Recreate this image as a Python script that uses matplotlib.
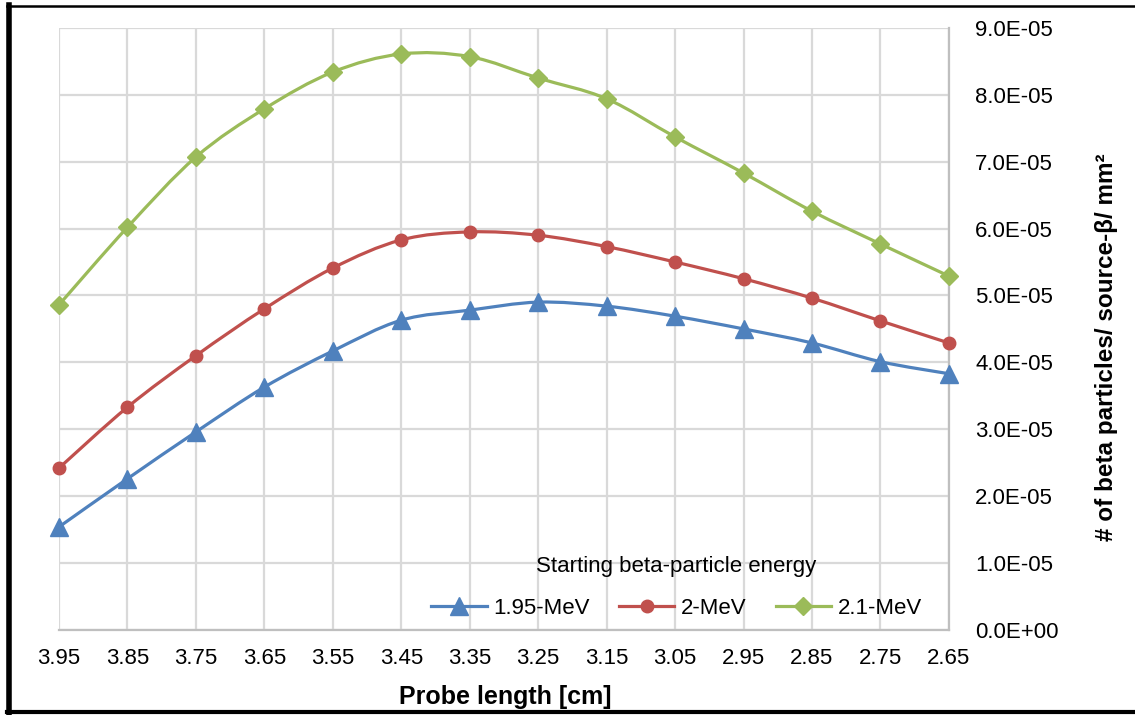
import matplotlib
matplotlib.use("Agg")
import matplotlib.pyplot as plt
from matplotlib.path import Path
from matplotlib.patches import PathPatch
from matplotlib.lines import Line2D
from matplotlib.ticker import FuncFormatter

plt.rcParams["font.family"] = ["Liberation Sans", "DejaVu Sans"]

# Data
probe_length = ["3.95", "3.85", "3.75", "3.65", "3.55", "3.45", "3.35",
                "3.25", "3.15", "3.05", "2.95", "2.85", "2.75", "2.65"]
mev_195 = [1.54, 2.26, 2.96, 3.63, 4.17, 4.63, 4.78, 4.90, 4.84, 4.69, 4.50, 4.29, 4.01, 3.83]
mev_2 = [2.42, 3.33, 4.10, 4.80, 5.41, 5.83, 5.95, 5.90, 5.73, 5.50, 5.25, 4.96, 4.62, 4.29]
mev_21 = [4.86, 6.02, 7.07, 7.79, 8.34, 8.61, 8.57, 8.25, 7.94, 7.37, 6.83, 6.26, 5.77, 5.29]
scale = 1e-5

series = [
    ("1.95-MeV", mev_195, "#4F81BD", "^", 12.5),
    ("2-MeV", mev_2, "#C0504D", "o", 9),
    ("2.1-MeV", mev_21, "#9BBB59", "D", 9),
]


def smooth_path(xs, ys):
    # Excel-style smoothed line drawn as cubic Bezier segments
    pts = list(zip(xs, ys))
    verts = [pts[0]]
    codes = [Path.MOVETO]
    n = len(pts)
    for i in range(n - 1):
        p0 = pts[max(i - 1, 0)]
        p1 = pts[i]
        p2 = pts[i + 1]
        p3 = pts[min(i + 2, n - 1)]
        c1 = (p1[0] + (p2[0] - p0[0]) / 6, p1[1] + (p2[1] - p0[1]) / 6)
        c2 = (p2[0] - (p3[0] - p1[0]) / 6, p2[1] - (p3[1] - p1[1]) / 6)
        verts += [c1, c2, p2]
        codes += [Path.CURVE4] * 3
    return Path(verts, codes)


fig = plt.figure(figsize=(11.35, 7.15), dpi=100)
ax = fig.add_axes([0.052, 0.119, 0.784, 0.842])

x = list(range(len(probe_length)))
handles = []
for name, vals, color, marker, ms in series:
    y = [v * scale for v in vals]
    ax.add_patch(PathPatch(smooth_path(x, y), fill=False, edgecolor=color,
                           lw=2.3, zorder=3, clip_on=False))
    ax.plot(x, y, ls="none", marker=marker, ms=ms, color=color, zorder=4,
            clip_on=False)
    handles.append(Line2D([], [], color=color, lw=2.3, marker=marker, ms=ms))

ax.set_xlim(0, len(x) - 1)
ax.set_ylim(0, 9e-5)
ax.set_xticks(x)
ax.set_xticklabels(probe_length)
ax.set_yticks([i * 1e-5 for i in range(10)])
ax.yaxis.set_major_formatter(FuncFormatter(lambda v, p: f"{v:.1E}"))
ax.yaxis.tick_right()

ax.grid(True, color="#D9D9D9", lw=1.6)
ax.set_axisbelow(True)
for s in ["top", "left"]:
    ax.spines[s].set_visible(False)
for s in ["bottom", "right"]:
    ax.spines[s].set_color("#BFBFBF")
    ax.spines[s].set_linewidth(1.6)
ax.tick_params(length=0)
ax.tick_params(axis="x", pad=13, labelsize=16)
ax.tick_params(axis="y", pad=19, labelsize=16)

fig.text(0.445, 0.025, "Probe length [cm]", fontsize=18, fontweight="bold",
         ha="center", va="center")
fig.text(0.975, 0.515, "# of beta particles/ source-β/ mm²", fontsize=17.5,
         fontweight="bold", rotation=90, ha="center", va="center")

leg = ax.legend(handles, [s[0] for s in series], title="Starting beta-particle energy",
                ncol=3, loc="lower center", bbox_to_anchor=(0.694, -0.008),
                frameon=False, fontsize=16, title_fontsize=16,
                handlelength=2.5, columnspacing=1.3, handletextpad=0.3,
                labelspacing=0.95, borderpad=0.2)

# outer frame
fig.add_artist(Line2D([0.008, 0.008], [0.003, 0.993], color="black", lw=4,
                      transform=fig.transFigure))
fig.add_artist(Line2D([0.006, 1.0], [0.992, 0.992], color="black", lw=1.8,
                      transform=fig.transFigure))
fig.add_artist(Line2D([0.006, 1.0], [0.004, 0.004], color="black", lw=3,
                      transform=fig.transFigure))

fig.savefig("out.png", dpi=100)
